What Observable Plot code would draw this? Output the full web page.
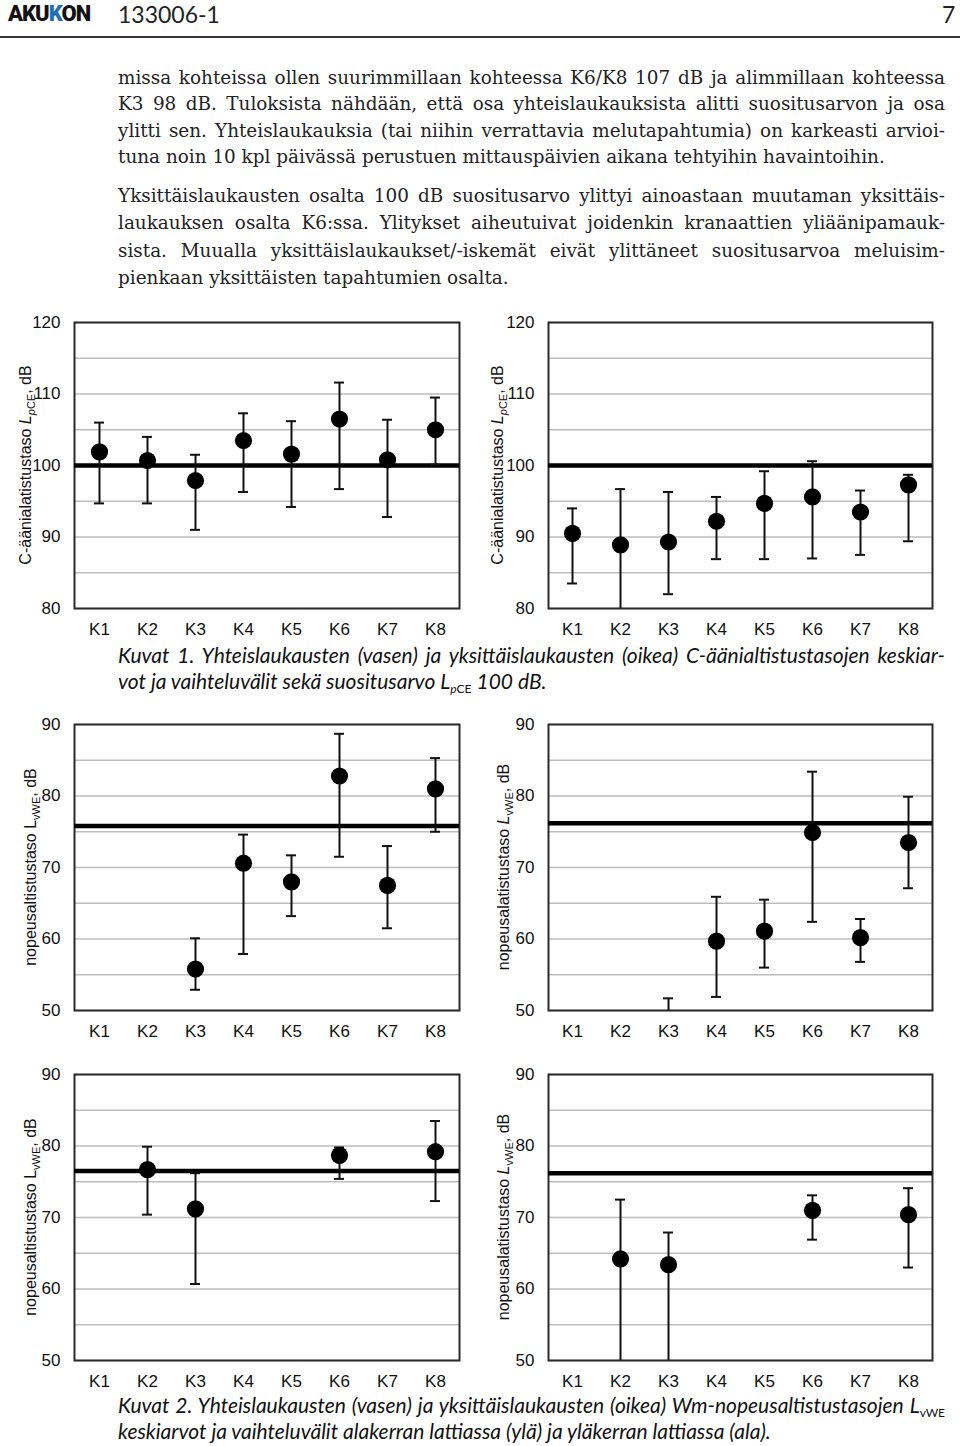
<!DOCTYPE html>
<html>
<head>
<meta charset="utf-8">
<script src="https://cdn.jsdelivr.net/npm/d3@7"></script>
<script src="https://cdn.jsdelivr.net/npm/@observablehq/plot@0.6"></script>
<style>
  html, body { margin: 0; padding: 0; background: #fff; }
  #page { position: relative; width: 960px; height: 1446px; overflow: hidden; background: #fff; }
  .abs { position: absolute; }
  .body-line { position: absolute; left: 118px; width: 827px; font-family: "DejaVu Serif", serif; font-size: 18.4px; line-height: 26px; color: #222; white-space: nowrap; }
  .just { text-align: justify; text-align-last: justify; white-space: normal; }
  .cap-line { position: absolute; left: 118px; width: 827px; font-family: Lato, "Noto Sans", sans-serif; font-style: italic; font-size: 21px; line-height: 26px; color: #111; white-space: nowrap; }
  sub { font-size: 12px; vertical-align: -4px; line-height: 0; font-style: normal; }
</style>
</head>
<body>
<div id="page">
  <div class="abs" style="left:8px;top:1px;font-family:Roboto,'DejaVu Sans',sans-serif;font-weight:900;font-size:22px;letter-spacing:-1px;color:#111;">AKU<span style="color:#1f6fb5">K</span>ON</div>
  <div class="abs" style="left:118px;top:0px;font-family:Lato,sans-serif;font-size:23px;color:#222;">133006-1</div>
  <div class="abs" style="left:942px;top:0px;font-family:Lato,sans-serif;font-size:23px;color:#222;">7</div>
  <div class="abs" style="left:0;top:36px;width:960px;height:2px;background:#333;"></div>
  <div id="text"></div>
  <div id="charts"></div>
  <div id="captions"></div>
</div>
<script>
// ---------- data ----------
const categories = ["K1", "K2", "K3", "K4", "K5", "K6", "K7", "K8"];

// Chart 1: yhteislaukaukset, C-äänialtistustaso LpCE (dB)
const c1Mean = [101.9, 100.7, 97.9, 103.5, 101.6, 106.5, 100.8, 105.0];
const c1Low  = [94.7, 94.7, 91.0, 96.3, 94.2, 96.7, 92.8, 100.1];
const c1High = [106.0, 104.0, 101.5, 107.3, 106.2, 111.6, 106.4, 109.5];
// Chart 2: yksittäislaukaukset, LpCE (dB)
const c2Mean = [90.5, 88.9, 89.3, 92.2, 94.7, 95.6, 93.5, 97.3];
const c2Low  = [83.5, 80.0, 82.0, 86.9, 86.9, 87.0, 87.5, 89.4];
const c2High = [94.0, 96.7, 96.3, 95.6, 99.2, 100.6, 96.5, 98.7];
const cLimit = 100;

// Chart 3: yhteislaukaukset, LvWE alakerta (dB)
const c3Mean = [null, null, 55.8, 70.6, 68.0, 82.8, 67.5, 81.0];
const c3Low  = [null, null, 52.9, 57.9, 63.2, 71.5, 61.5, 75.0];
const c3High = [null, null, 60.1, 74.6, 71.7, 88.7, 73.0, 85.3];
const c3Limit = 75.8;
// Chart 4: yksittäislaukaukset, LvWE alakerta (dB)
const c4Mean = [null, null, 48.0, 59.7, 61.1, 74.9, 60.2, 73.5];
const c4Low  = [null, null, 44.0, 51.9, 56.0, 62.4, 56.8, 67.1];
const c4High = [null, null, 51.7, 65.9, 65.5, 83.4, 62.8, 79.9];
const c4Limit = 76.2;
// Chart 5: yhteislaukaukset, LvWE yläkerta (dB)
const c5Mean = [null, 76.7, 71.2, null, null, 78.7, null, 79.2];
const c5Low  = [null, 70.4, 60.7, null, null, 75.4, null, 72.3];
const c5High = [null, 79.9, 76.2, null, null, 79.8, null, 83.5];
const c5Limit = 76.5;
// Chart 6: yksittäislaukaukset, LvWE yläkerta (dB)
const c6Mean = [null, 64.2, 63.4, null, null, 71.0, null, 70.4];
const c6Low  = [null, 50.0, 50.0, null, null, 66.9, null, 63.0];
const c6High = [null, 72.5, 67.9, null, null, 73.1, null, 74.1];
const c6Limit = 76.2;

const cTicks = [80, 90, 100, 110, 120];
const vTicks = [50, 60, 70, 80, 90];

// ---------- body text ----------
const para1 = [
  "missa kohteissa ollen suurimmillaan kohteessa K6/K8 107 dB ja alimmillaan kohteessa",
  "K3 98 dB. Tuloksista nähdään, että osa yhteislaukauksista alitti suositusarvon ja osa",
  "ylitti sen. Yhteislaukauksia (tai niihin verrattavia melutapahtumia) on karkeasti arvioi-",
  "tuna noin 10 kpl päivässä perustuen mittauspäivien aikana tehtyihin havaintoihin."
];
const para2 = [
  "Yksittäislaukausten osalta 100 dB suositusarvo ylittyi ainoastaan muutaman yksittäis-",
  "laukauksen osalta K6:ssa. Ylitykset aiheutuivat joidenkin kranaattien yliäänipamauk-",
  "sista. Muualla yksittäislaukaukset/-iskemät eivät ylittäneet suositusarvoa meluisim-",
  "pienkaan yksittäisten tapahtumien osalta."
];
const para1Tops = [65, 91, 118, 144];
const para2Tops = [183, 210, 238, 265];

const textDiv = document.getElementById("text");
function addLines(lines, tops) {
  lines.forEach((t, i) => {
    const d = document.createElement("div");
    d.className = "body-line" + (i < lines.length - 1 ? " just" : "");
    d.style.top = tops[i] + "px";
    d.textContent = t;
    textDiv.appendChild(d);
  });
}
addLines(para1, para1Tops);
addLines(para2, para2Tops);

// ---------- captions ----------
const capDiv = document.getElementById("captions");
function addCap(html, top, justify) {
  const d = document.createElement("div");
  d.className = "cap-line";
  if (justify) { d.style.textAlign = "justify"; d.style.textAlignLast = "justify"; d.style.whiteSpace = "normal"; }
  d.style.top = top + "px";
  d.innerHTML = html;
  capDiv.appendChild(d);
}
addCap("Kuvat 1. Yhteislaukausten (vasen) ja yksittäislaukausten (oikea) C-äänialtistustasojen keskiar-", 642, true);
addCap("vot ja vaihteluvälit sekä suositusarvo <i>L</i><sub><i>p</i>CE</sub> 100 dB.", 668, false);
addCap("Kuvat 2. Yhteislaukausten (vasen) ja yksittäislaukausten (oikea) Wm-nopeusaltistustasojen <i>L</i><sub>vWE</sub>", 1392, true);
addCap("keskiarvot ja vaihteluvälit alakerran lattiassa (ylä) ja yläkerran lattiassa (ala).", 1418, false);

// ---------- charts ----------
function rowsOf(mean, low, high) {
  return categories.map((k, i) => ({k, mean: mean[i], low: low[i], high: high[i]}))
    .filter(d => d.low != null);
}

function chart({mean, low, high, limit, domain, ticks, labelPre, italicL, sub, left, top, mLeft, mRight, labelX}) {
  const rows = rowsOf(mean, low, high);
  const grid = d3.range(domain[0], domain[1] + 0.1, 5);
  const svg = Plot.plot({
    width: 480,
    height: 330,
    marginLeft: mLeft,
    marginRight: mRight,
    marginTop: 12,
    marginBottom: 32,
    style: {fontFamily: "'Liberation Sans', Arial, sans-serif", fontSize: "17px", color: "#111", background: "transparent", overflow: "visible"},
    x: {domain: categories, padding: 0, label: null},
    y: {domain, label: null},
    marks: [
      Plot.gridY(grid, {stroke: "#bdbdbd", strokeOpacity: 1, strokeWidth: 1.5}),
      Plot.frame({stroke: "#2a2a2a", strokeWidth: 2}),
      Plot.ruleY([limit], {stroke: "#000", strokeWidth: 4.5}),
      Plot.ruleX(rows, {x: "k", y1: "low", y2: "high", stroke: "#111", strokeWidth: 2, clip: true}),
      Plot.tickY(rows.filter(d => d.high > domain[0]), {x: "k", y: "high", stroke: "#111", strokeWidth: 2, insetLeft: 19, insetRight: 19, clip: true}),
      Plot.tickY(rows.filter(d => d.low > domain[0]), {x: "k", y: "low", stroke: "#111", strokeWidth: 2, insetLeft: 19, insetRight: 19, clip: true}),
      Plot.dot(rows, {x: "k", y: "mean", r: 8.6, fill: "#000", stroke: "none", clip: true}),
      Plot.axisX({tickSize: 0, tickPadding: 14, label: null}),
      Plot.axisY({ticks, tickSize: 0, tickPadding: 14, label: null})
    ]
  });
  svg.style.position = "absolute";
  svg.style.left = left + "px";
  svg.style.top = top + "px";
  // rotated y-axis label with subscript
  const cy = 12 + (330 - 12 - 32) / 2;
  const t = d3.select(svg).append("text")
    .attr("transform", `translate(${labelX},${cy}) rotate(-90)`)
    .attr("text-anchor", "middle")
    .attr("dy", "0.35em")
    .attr("fill", "#111")
    .style("font-family", "'Liberation Sans', Arial, sans-serif")
    .style("font-size", "16px");
  t.append("tspan").text(labelPre);
  const L = t.append("tspan").text("L");
  if (italicL) L.style("font-style", "italic");
  const s = t.append("tspan").attr("dy", 4).style("font-size", "11px");
  if (italicL && sub === "pCE") {
    s.append("tspan").style("font-style", "italic").text("p");
    s.append("tspan").text("CE");
  } else {
    s.text(sub);
  }
  t.append("tspan").attr("dy", -4).text(", dB");
  document.getElementById("charts").appendChild(svg);
}

chart({mean: c1Mean, low: c1Low, high: c1High, limit: cLimit, domain: [80, 120], ticks: cTicks,
  labelPre: "C-äänialatistustaso ", italicL: true, sub: "pCE", left: 0, top: 310, mLeft: 74, mRight: 21, labelX: 25});
chart({mean: c2Mean, low: c2Low, high: c2High, limit: cLimit, domain: [80, 120], ticks: cTicks,
  labelPre: "C-äänialatistustaso ", italicL: true, sub: "pCE", left: 480, top: 310, mLeft: 68, mRight: 28, labelX: 17});
chart({mean: c3Mean, low: c3Low, high: c3High, limit: c3Limit, domain: [50, 90], ticks: vTicks,
  labelPre: "nopeusaltistustaso ", italicL: false, sub: "vWE", left: 0, top: 712, mLeft: 74, mRight: 21, labelX: 30});
chart({mean: c4Mean, low: c4Low, high: c4High, limit: c4Limit, domain: [50, 90], ticks: vTicks,
  labelPre: "nopeusalatistustaso ", italicL: true, sub: "vWE", left: 480, top: 712, mLeft: 68, mRight: 28, labelX: 23});
chart({mean: c5Mean, low: c5Low, high: c5High, limit: c5Limit, domain: [50, 90], ticks: vTicks,
  labelPre: "nopeusaltistustaso ", italicL: false, sub: "vWE", left: 0, top: 1062, mLeft: 74, mRight: 21, labelX: 30});
chart({mean: c6Mean, low: c6Low, high: c6High, limit: c6Limit, domain: [50, 90], ticks: vTicks,
  labelPre: "nopeusalatistustaso ", italicL: true, sub: "vWE", left: 480, top: 1062, mLeft: 68, mRight: 28, labelX: 23});
</script>
</body>
</html>
